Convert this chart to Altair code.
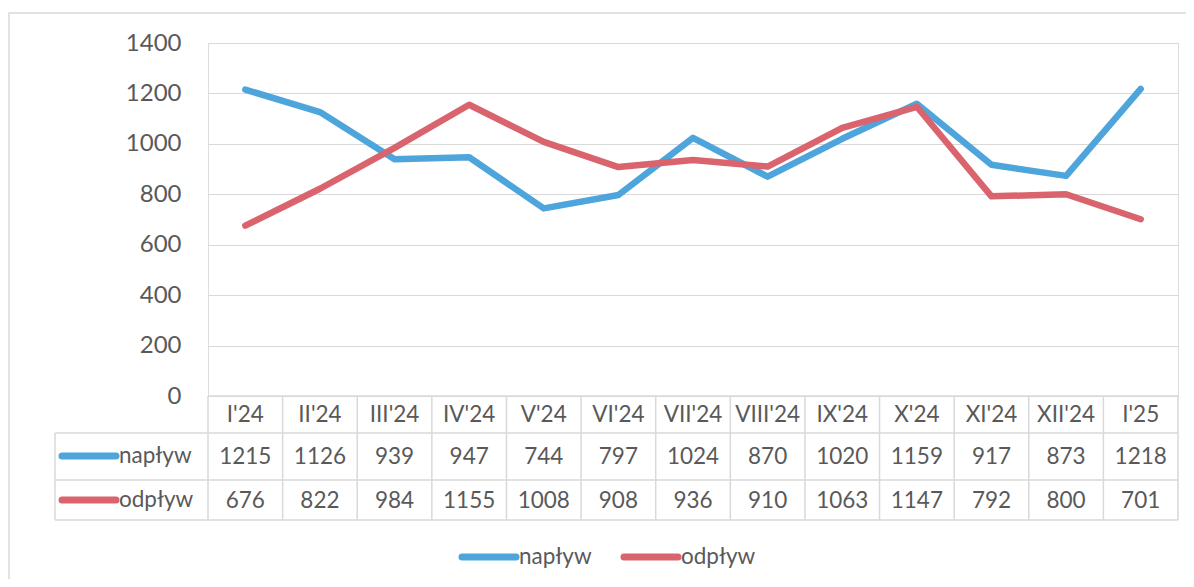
import altair as alt
import pandas as pd

months = ["I'24", "II'24", "III'24", "IV'24", "V'24", "VI'24", "VII'24",
          "VIII'24", "IX'24", "X'24", "XI'24", "XII'24", "I'25"]
naplyw = [1215, 1126, 939, 947, 744, 797, 1024, 870, 1020, 1159, 917, 873, 1218]
odplyw = [676, 822, 984, 1155, 1008, 908, 936, 910, 1063, 1147, 792, 800, 701]
series = ["napływ", "odpływ"]
colors = ["#4EA5DB", "#D9646E"]
y_ticks = [0, 200, 400, 600, 800, 1000, 1200, 1400]

W, H = 970, 353
FONT = "Lato"
TXT = "#595959"
GRID = "#d9d9d9"
FS = 22.5

df = pd.DataFrame({
    "month": months * 2,
    "value": naplyw + odplyw,
    "series": [series[0]] * len(months) + [series[1]] * len(months),
})
df_n = df[df.series == series[0]]
df_o = df[df.series == series[1]]
df_m = pd.DataFrame({"month": months})
df_b = pd.DataFrame({"b": list(range(len(months) + 1))})

xs = alt.X("month:N", sort=months, axis=None,
           scale=alt.Scale(type="point", padding=0.5))
col = alt.Color("series:N", scale=alt.Scale(domain=series, range=colors), legend=None)

lines_n = alt.Chart(df_n).mark_line(strokeWidth=6.5, strokeJoin="round", strokeCap="round").encode(
    x=xs,
    y=alt.Y("value:Q", scale=alt.Scale(domain=[0, 1400], nice=False),
            axis=alt.Axis(values=y_ticks, format="d", title=None, domain=False, ticks=False,
                          labelPadding=27, labelFontSize=24, labelFont=FONT,
                          labelColor=TXT, gridColor=GRID, gridWidth=1.2)),
    color=col,
)
lines_o = alt.Chart(df_o).mark_line(strokeWidth=6.5, strokeJoin="round", strokeCap="round").encode(
    x=xs, y="value:Q", color=col,
)

hdr = alt.Chart(df_m).mark_text(font=FONT, fontSize=FS, color=TXT).encode(
    x=xs, y=alt.value(372), text="month:N")
txt_n = alt.Chart(df_n).mark_text(font=FONT, fontSize=FS, color=TXT).encode(
    x=xs, y=alt.value(414), text="value:Q")
txt_o = alt.Chart(df_o).mark_text(font=FONT, fontSize=FS, color=TXT).encode(
    x=xs, y=alt.value(458), text="value:Q")

bx = alt.X("b:Q", scale=alt.Scale(domain=[0, len(months)], nice=False, zero=True), axis=None)
vlines = alt.Chart(df_b).mark_rule(color=GRID, strokeWidth=1.5).encode(
    x=bx, y=alt.value(353), y2=alt.value(477))

hrule = lambda x1, x2, y: alt.Chart(df_m.head(1)).mark_rule(color=GRID, strokeWidth=1.5).encode(
    x=alt.value(x1), x2=alt.value(x2), y=alt.value(y))
vrule = lambda x, y1, y2: alt.Chart(df_m.head(1)).mark_rule(color=GRID, strokeWidth=1.5).encode(
    x=alt.value(x), y=alt.value(y1), y2=alt.value(y2))

tbl_lines = [hrule(0, W, 353), hrule(-153, W, 390), hrule(-153, W, 437), hrule(-153, W, 477),
             vrule(-153, 390, 477)]

def key(label, color, x, y):
    df_k = pd.DataFrame({"series": [label]})
    sw = alt.Chart(df_k).mark_rule(strokeWidth=7, strokeCap="round", color=color).encode(
        x=alt.value(x), x2=alt.value(x + 54), y=alt.value(y))
    t = alt.Chart(df_k).mark_text(font=FONT, fontSize=FS, color=TXT, align="left").encode(
        x=alt.value(x + 57), y=alt.value(y), text="series:N")
    return sw + t

keys = [key(series[0], colors[0], -146, 413), key(series[1], colors[1], -146, 457),
        key(series[0], colors[0], 254, 514), key(series[1], colors[1], 416, 514)]

border = alt.Chart(df_m.head(1)).mark_rect(fill=None, stroke=GRID, strokeWidth=1.5).encode(
    x=alt.value(-199), x2=alt.value(1300), y=alt.value(-30), y2=alt.value(700))

chart = alt.layer(
    border, *tbl_lines, vlines, lines_n, lines_o, hdr, txt_n, txt_o, *keys
).resolve_scale(x="independent").properties(
    width=W, height=H,
    autosize=alt.AutoSizeParams(type="none"),
    padding={"left": 200, "top": 35, "right": 8, "bottom": 183},
).configure_view(stroke=None).configure(background="white")

chart.save("out.html", embed_options={"renderer": "svg", "actions": False})
